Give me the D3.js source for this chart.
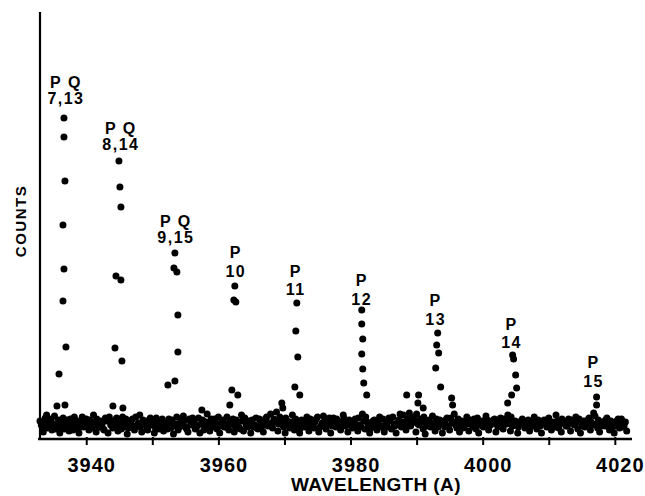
<!DOCTYPE html>
<html><head><meta charset="utf-8">
<script src="https://cdn.jsdelivr.net/npm/d3@7/dist/d3.min.js"></script>
<style>
html,body{margin:0;padding:0;background:#fff;}
svg{display:block;}
text{font-family:"Liberation Sans",Arial,sans-serif;font-weight:bold;fill:#000;}
</style></head>
<body>
<svg id="chart" width="645" height="496"></svg>
<script>
// ---- data ----
const xTicks = [3940,3950,3960,3970,3980,3990,4000,4010,4020];
const xTickLabels = ["3940","","3960","","3980","","4000","","4020"];
const xTitle = "WAVELENGTH (A)";
const yTitle = "COUNTS";

// background channels, first pass [wavelength, counts]
const baseline = [
[3933.2,14],[3933.5,7],[3933.8,21],[3934.1,11],[3934.5,17],[3934.8,9],[3935.2,23],[3935.6,13],[3936.0,6],[3936.3,16],
[3936.7,10],[3937.1,19],[3937.4,8],[3937.8,14],[3938.2,22],[3938.5,11],[3938.9,6],[3939.3,17],[3939.6,12],[3940.0,20],
[3940.4,9],[3940.7,15],[3941.1,24],[3941.5,7],[3941.8,13],[3942.2,18],[3942.6,10],[3942.9,21],[3943.3,6],[3943.7,14],
[3944.0,11],[3944.4,19],[3944.8,8],[3945.1,16],[3945.5,22],[3945.9,12],[3946.2,5],[3946.6,15],[3947.0,20],[3947.3,9],
[3947.7,13],[3948.1,24],[3948.4,7],[3948.8,17],[3949.2,11],[3949.5,19],[3949.9,14],[3950.3,6],[3950.6,21],[3951.0,10],
[3951.4,16],[3951.7,8],[3952.1,13],[3952.5,20],[3952.8,11],[3953.2,5],[3953.6,15],[3953.9,9],[3954.3,18],[3954.7,23],
[3955.0,12],[3955.4,7],[3955.8,16],[3956.1,21],[3956.5,10],[3956.9,14],[3957.2,6],[3957.6,19],[3958.0,12],[3958.3,25],
[3958.7,8],[3959.1,15],[3959.4,20],[3959.8,10],[3960.2,6],[3960.5,17],[3960.9,12],[3961.3,22],[3961.6,9],[3962.0,15],
[3962.4,7],[3962.7,19],[3963.1,12],[3963.5,24],[3963.8,8],[3964.2,14],[3964.6,18],[3964.9,6],[3965.3,12],[3965.7,21],
[3966.0,10],[3966.4,16],[3966.8,7],[3967.1,20],[3967.5,13],[3967.9,25],[3968.2,11],[3968.6,17],[3969.0,8],[3969.3,22],
[3969.7,14],[3970.1,6],[3970.4,18],[3970.8,11],[3971.2,24],[3971.5,9],[3971.9,15],[3972.3,6],[3972.6,19],[3973.0,12],
[3973.4,22],[3973.7,8],[3974.1,16],[3974.5,11],[3974.8,20],[3975.2,7],[3975.6,14],[3975.9,23],[3976.3,10],[3976.7,17],
[3977.0,6],[3977.4,21],[3977.8,12],[3978.1,18],[3978.5,9],[3978.9,24],[3979.2,13],[3979.6,7],[3980.0,16],[3980.3,11],
[3980.7,20],[3981.1,8],[3981.4,14],[3981.8,25],[3982.2,10],[3982.5,17],[3982.9,6],[3983.3,13],[3983.6,19],[3984.0,9],
[3984.4,22],[3984.7,12],[3985.1,7],[3985.5,16],[3985.8,21],[3986.2,10],[3986.6,15],[3986.9,6],[3987.3,19],[3987.7,12],
[3988.0,24],[3988.4,9],[3988.8,17],[3989.1,13],[3989.5,22],[3989.9,7],[3990.2,15],[3990.6,20],[3991.0,10],[3991.3,5],
[3991.7,17],[3992.1,12],[3992.4,23],[3992.8,8],[3993.2,14],[3993.5,19],[3993.9,6],[3994.3,12],[3994.6,21],[3995.0,9],
[3995.4,16],[3995.7,25],[3996.1,11],[3996.5,7],[3996.8,18],[3997.2,13],[3997.6,22],[3997.9,8],[3998.3,15],[3998.7,20],
[3999.0,10],[3999.4,6],[3999.8,17],[4000.1,12],[4000.5,23],[4000.9,9],[4001.2,14],[4001.6,19],[4002.0,7],[4002.3,12],
[4002.7,21],[4003.1,10],[4003.4,16],[4003.8,24],[4004.2,8],[4004.5,13],[4004.9,18],[4005.3,6],[4005.6,15],[4006.0,20],
[4006.4,11],[4006.7,17],[4007.1,8],[4007.5,13],[4007.8,22],[4008.2,10],[4008.6,16],[4008.9,6],[4009.3,19],[4009.7,12],
[4010.0,21],[4010.4,9],[4010.8,15],[4011.1,24],[4011.5,11],[4011.9,7],[4012.2,17],[4012.6,13],[4013.0,20],[4013.3,8],
[4013.7,15],[4014.1,22],[4014.4,10],[4014.8,6],[4015.2,16],[4015.5,12],[4015.9,19],[4016.3,9],[4016.6,14],[4017.0,23],
[4017.4,11],[4017.7,7],[4018.1,17],[4018.5,13],[4018.8,21],[4019.2,9],[4019.6,15],[4019.9,6],[4020.3,18],[4020.7,11],
[4021.0,20],[4021.4,13],[4021.8,8]
];

// background channels, second pass [wavelength, counts]
const baseline2 = [
[3933.0,18],[3933.4,11],[3933.7,16],[3934.0,24],[3934.3,13],[3934.7,20],[3935.0,15],[3935.4,10],[3935.8,19],[3936.1,12],
[3936.5,21],[3936.9,15],[3937.2,12],[3937.6,20],[3938.0,9],[3938.3,16],[3938.7,18],[3939.1,12],[3939.4,22],[3939.8,15],
[3940.2,13],[3940.5,19],[3940.9,11],[3941.3,17],[3941.6,20],[3942.0,12],[3942.4,15],[3942.7,9],[3943.1,18],[3943.5,22],
[3943.8,16],[3944.2,13],[3944.6,21],[3944.9,14],[3945.3,10],[3945.7,17],[3946.0,20],[3946.4,11],[3946.8,18],[3947.1,13],
[3947.5,22],[3947.9,16],[3948.2,12],[3948.6,19],[3949.0,14],[3949.3,9],[3949.7,21],[3950.1,16],[3950.4,12],[3950.8,18],
[3951.2,13],[3951.5,20],[3951.9,16],[3952.3,10],[3952.6,15],[3953.0,19],[3953.4,13],[3953.7,22],[3954.1,12],[3954.5,15],
[3954.8,18],[3955.2,10],[3955.6,20],[3955.9,14],[3956.3,17],[3956.7,12],[3957.0,21],[3957.4,15],[3957.8,9],[3958.1,17],
[3958.5,14],[3958.9,20],[3959.2,12],[3959.6,16],[3960.0,22],[3960.3,13],[3960.7,19],[3961.1,15],[3961.4,11],[3961.8,18],
[3962.2,20],[3962.5,13],[3962.9,16],[3963.3,10],[3963.6,18],[3964.0,21],[3964.4,12],[3964.7,15],[3965.1,19],[3965.5,14],
[3965.8,11],[3966.2,20],[3966.6,13],[3966.9,17],[3967.3,22],[3967.7,16],[3968.0,14],[3968.4,20],[3968.8,27],[3969.1,15],
[3969.5,18],[3969.9,12],[3970.2,21],[3970.6,15],[3971.0,17],[3971.3,12],[3971.7,20],[3972.1,14],[3972.4,11],[3972.8,16],
[3973.2,19],[3973.5,14],[3973.9,20],[3974.3,13],[3974.6,17],[3975.0,22],[3975.4,12],[3975.7,16],[3976.1,19],[3976.5,14],
[3976.8,21],[3977.2,13],[3977.6,16],[3977.9,20],[3978.3,12],[3978.7,17],[3979.0,21],[3979.4,15],[3979.8,19],[3980.1,13],
[3980.5,17],[3980.9,14],[3981.2,21],[3981.6,12],[3982.0,18],[3982.3,22],[3982.7,15],[3983.1,11],[3983.4,18],[3983.8,14],
[3984.2,17],[3984.5,13],[3984.9,20],[3985.3,15],[3985.6,12],[3986.0,18],[3986.4,22],[3986.7,13],[3987.1,16],[3987.5,25],
[3987.8,17],[3988.2,14],[3988.6,20],[3988.9,26],[3989.3,16],[3989.7,19],[3990.0,25],[3990.4,14],[3990.8,17],[3991.1,22],
[3991.5,13],[3991.9,19],[3992.2,16],[3992.6,14],[3993.0,20],[3993.3,12],[3993.7,17],[3994.1,15],[3994.4,19],[3994.8,13],
[3995.2,21],[3995.5,17],[3995.9,14],[3996.3,20],[3996.6,15],[3997.0,11],[3997.4,17],[3997.7,15],[3998.1,19],[3998.5,12],
[3998.8,16],[3999.2,21],[3999.6,14],[3999.9,18],[4000.3,15],[4000.7,19],[4001.0,13],[4001.4,16],[4001.8,20],[4002.1,15],
[4002.5,17],[4002.9,13],[4003.2,20],[4003.6,15],[4004.0,19],[4004.3,22],[4004.7,14],[4005.1,17],[4005.4,12],[4005.8,18],
[4006.2,15],[4006.5,13],[4006.9,19],[4007.3,16],[4007.6,18],[4008.0,14],[4008.4,19],[4008.7,13],[4009.1,16],[4009.5,15],
[4009.8,18],[4010.2,14],[4010.6,17],[4010.9,12],[4011.3,18],[4011.7,15],[4012.0,20],[4012.4,16],[4012.8,13],[4013.1,17],
[4013.5,19],[4013.9,14],[4014.2,17],[4014.6,20],[4015.0,13],[4015.3,18],[4015.7,15],[4016.1,21],[4016.4,17],[4016.8,26],
[4017.2,15],[4017.5,19],[4017.9,13],[4018.3,16],[4018.6,19],[4019.0,14],[4019.4,18],[4019.7,12],[4020.1,15],[4020.5,20],
[4020.8,16],[4021.2,12],[4021.6,17]
];

// band-head peaks and small bumps [wavelength, counts]
const peakPoints = [
// P7 Q13
[3936.63,321],[3936.63,302],[3936.78,258],[3936.48,214],[3936.63,170],[3936.48,138],[3936.93,92],[3935.88,65],[3935.57,33],[3936.78,34],
// P8 Q14
[3944.95,278],[3945.10,252],[3945.25,232],[3944.50,163],[3945.25,159],[3944.35,91],[3945.40,78],[3944.04,33],[3945.55,31],
// P9 Q15
[3953.42,186],[3953.27,171],[3953.72,167],[3953.87,124],[3953.87,87],[3953.42,58],[3952.36,54],
// P10
[3962.49,153],[3962.34,139],[3962.64,137],[3962.04,49],[3962.94,44],[3961.73,34],
// P11
[3971.87,136],[3971.72,108],[3972.02,82],[3971.57,52],[3972.32,44],
// P12
[3981.70,129],[3981.70,115],[3981.85,100],[3981.70,85],[3981.85,70],[3982.00,56],[3982.45,44],
// P13
[3993.19,106],[3993.04,94],[3993.34,86],[3992.89,71],[3993.64,52],[3995.30,41],[3995.45,34],
// P14
[4004.53,84],[4004.68,80],[4004.99,64],[4005.14,51],[4004.38,44],[4003.78,36],
// P15
[4017.24,42],[4017.24,34],
// bumps
[3957.50,29],[3969.60,36],[3969.75,31],[3988.50,44],[3990.30,44],[3990.20,36],[3991.00,31]
];

// peak annotations: label centre wavelength, count level of lower line
const annotations = [
{w:3936.93, c:335, top:"P Q", bottom:"7,13", gap:16},
{w:3945.25, c:289, top:"P Q", bottom:"8,14", gap:16},
{w:3953.57, c:196, top:"P Q", bottom:"9,15", gap:16},
{w:3962.64, c:162, top:"P", bottom:"10", gap:19},
{w:3971.72, c:144, top:"P", bottom:"11", gap:18},
{w:3981.70, c:134, top:"P", bottom:"12", gap:19},
{w:3992.89, c:114, top:"P", bottom:"13", gap:19},
{w:4004.38, c:91,  top:"P", bottom:"14", gap:18},
{w:4016.78, c:52,  top:"P", bottom:"15", gap:19}
];

// ---- drawing ----
const svg = d3.select("#chart");
const x = d3.scaleLinear().domain([3932.7, 4022.6]).range([38, 632]);
const y = d3.scaleLinear().domain([0, 427]).range([439, 12]);

// dots
const pts = baseline.concat(baseline2, peakPoints);
svg.append("g").selectAll("circle").data(pts).join("circle")
  .attr("cx", d => x(d[0])).attr("cy", d => y(d[1])).attr("r", 3.5).attr("fill", "#000");

// x axis
const xAxis = d3.axisBottom(x).tickValues(xTicks)
  .tickFormat((d,i) => xTickLabels[i]).tickSizeInner(6).tickSizeOuter(0);
const gx = svg.append("g").attr("transform", `translate(0,${y(0)})`).call(xAxis);
gx.select(".domain").attr("stroke", "#000").attr("stroke-width", 2.5)
  .attr("d", `M${x.range()[0]},0H${x.range()[1]}`);
gx.selectAll(".tick line").attr("stroke", "#000").attr("stroke-width", 2).attr("y1", -2);
gx.selectAll(".tick text").attr("y", 33).attr("dy", 0).attr("dx", 5)
  .style("font-size", "20px").style("letter-spacing", "1px").attr("fill", "#000");

// y axis line
svg.append("line").attr("x1", x.range()[0] + 2).attr("x2", x.range()[0] + 2)
  .attr("y1", y.range()[1]).attr("y2", y(0)).attr("stroke", "#000").attr("stroke-width", 2.2);

// titles
svg.append("text").attr("x", 376).attr("y", 491).attr("text-anchor", "middle")
  .style("font-size", "19px").style("letter-spacing", "0.4px").text(xTitle);
svg.append("text").attr("transform", "translate(26,221) rotate(-90)").attr("text-anchor", "middle")
  .style("font-size", "15px").style("letter-spacing", "1.5px").text(yTitle);

// annotations
const ga = svg.append("g");
annotations.forEach(a => {
  ga.append("text").attr("x", x(a.w)).attr("y", y(a.c) - a.gap).attr("text-anchor", "middle")
    .style("font-size", "16px").style("letter-spacing", "1.5px").text(a.top);
  ga.append("text").attr("x", x(a.w)).attr("y", y(a.c)).attr("text-anchor", "middle")
    .style("font-size", "16px").style("letter-spacing", "1.5px").text(a.bottom);
});
</script>
</body></html>
